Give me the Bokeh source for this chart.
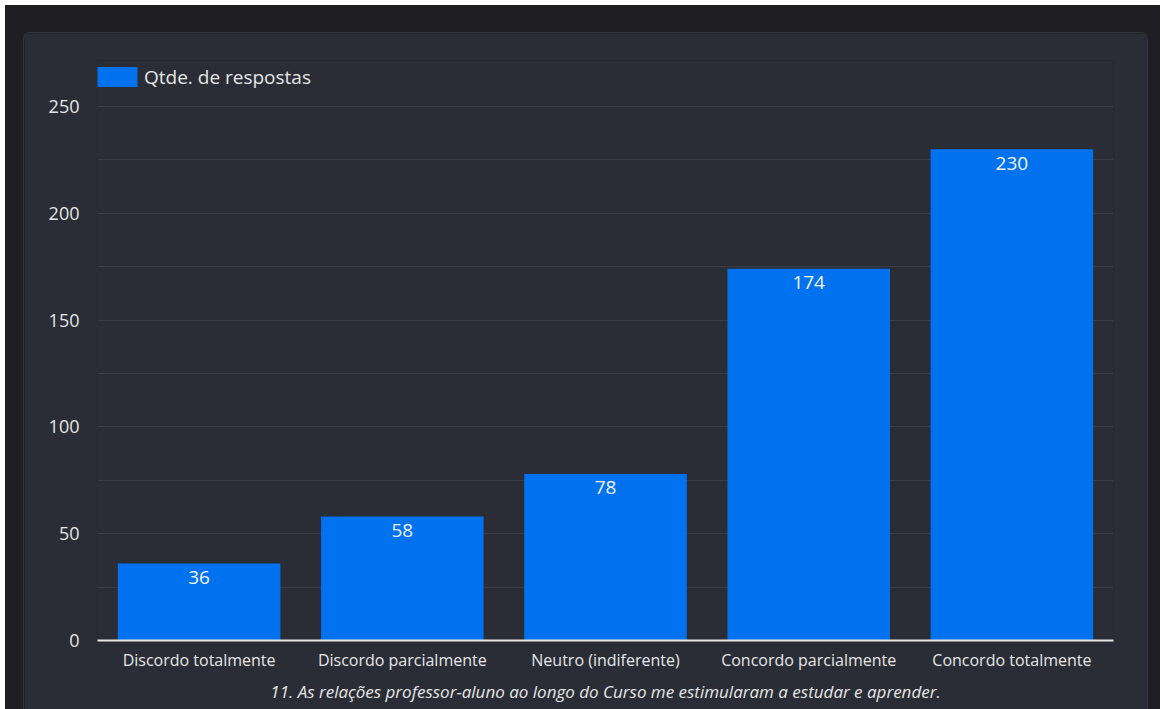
from bokeh.plotting import figure
from bokeh.layouts import column
from bokeh.models import (ColumnDataSource, FactorRange, Range1d, LabelSet, Legend, LegendItem,
                          SingleIntervalTicker)
from bokeh.core.properties import value
from bokeh.embed import file_html
from bokeh.resources import INLINE

categories = ["Discordo totalmente", "Discordo parcialmente", "Neutro (indiferente)",
              "Concordo parcialmente", "Concordo totalmente"]
values = [36, 58, 78, 174, 230]
series_name = "Qtde. de respostas"
x_title = "11. As relações professor-aluno ao longo do Curso me estimularam a estudar e aprender."

OUTER = "#1f1f23"
PANEL = "#2a2d36"
GRID = "#3a3d46"
BLUE = "#0072f0"
TXT = "#e6e6e6"
FONT = "Open Sans"

src = ColumnDataSource(dict(cat=categories, val=values, lab=[str(v) for v in values]))

# y range extends above 250 to leave room for the legend inside the frame
p = figure(x_range=FactorRange(*categories, range_padding=0), y_range=Range1d(0, 271.536),
           width=1123, height=676, frame_width=1016, frame_height=580,
           min_border_left=73, min_border_right=34, min_border_top=27, min_border_bottom=69,
           output_backend="svg", toolbar_location=None)
p.margin = (28, 13, 0, 19)
p.styles = {"border-radius": "6px 6px 0 0", "overflow": "hidden", "box-shadow": "0 0 0 1px #32353e"}
p.border_fill_color = PANEL
p.background_fill_color = PANEL
p.outline_line_color = None

r = p.vbar(x="cat", top="val", width=0.8, source=src, fill_color=BLUE, line_color=None)

labels = LabelSet(x="cat", y="val", text="lab", source=src, text_align="center",
                  text_baseline="middle", y_offset=-14, text_color="#f2f2f2",
                  text_font_size="19px", text_font=value(FONT))
p.add_layout(labels)

legend = Legend(items=[LegendItem(label=series_name, renderers=[r])], location=(-5, 550.5),
                padding=0, margin=0, glyph_width=50, glyph_height=25, label_standoff=2,
                label_height=25, label_text_font=FONT, label_text_font_size="19px",
                label_text_color=TXT, background_fill_alpha=0, border_line_color=None)
p.add_layout(legend)

p.yaxis.ticker = SingleIntervalTicker(interval=50, num_minor_ticks=2)
p.ygrid.grid_line_color = GRID
p.ygrid.minor_grid_line_color = GRID
p.xgrid.grid_line_color = None
p.yaxis.axis_line_color = None
p.yaxis.major_tick_line_color = None
p.yaxis.minor_tick_line_color = None
p.yaxis.major_label_standoff = 12
p.yaxis.major_label_text_font = FONT
p.yaxis.major_label_text_font_size = "18px"
p.yaxis.major_label_text_color = TXT

p.xaxis.axis_line_color = "#e8e8e8"
p.xaxis.axis_line_width = 2
p.xaxis.major_tick_line_color = None
p.xaxis.minor_tick_line_color = None
p.xaxis.major_label_standoff = 2
p.xaxis.major_label_text_font = FONT
p.xaxis.major_label_text_font_size = "16px"
p.xaxis.major_label_text_color = TXT
p.xaxis.axis_label = x_title
p.xaxis.axis_label_text_font = FONT
p.xaxis.axis_label_text_font_size = "17px"
p.xaxis.axis_label_text_font_style = "italic"
p.xaxis.axis_label_text_color = TXT
p.xaxis.axis_label_standoff = 6

layout = column(p, margin=(5, 0, 0, 5), styles={"background-color": OUTER})
open("out.html", "w").write(file_html(layout, INLINE))
